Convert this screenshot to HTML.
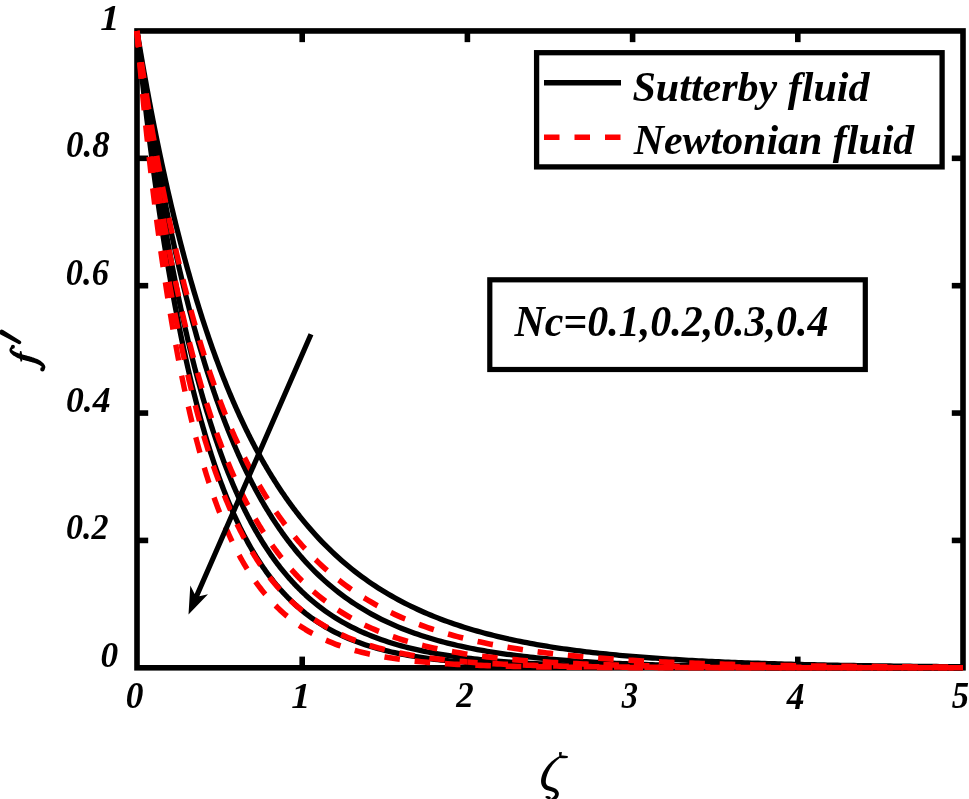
<!DOCTYPE html>
<html><head><meta charset="utf-8"><style>
html,body{margin:0;padding:0;background:#fff;overflow:hidden;}
svg{display:block;will-change:transform;}
text{font-family:"Liberation Serif",serif;font-weight:bold;font-style:italic;fill:#000;}
.bk{fill:none;stroke:#000;stroke-width:5.3;stroke-linejoin:round;}
.rd{fill:none;stroke:#f00;stroke-width:5.4;stroke-dasharray:15.6 14.82;stroke-linejoin:round;}
</style></head><body>
<svg width="969" height="799" viewBox="0 0 969 799">
<rect x="0" y="0" width="969" height="799" fill="#fff"/>
<g stroke="#000" stroke-width="5.6" fill="none">
<rect x="137.0" y="30.95" width="826.00" height="636.85"/>
<line x1="302.20" y1="667.80" x2="302.20" y2="656.60"/><line x1="302.20" y1="30.95" x2="302.20" y2="42.15"/><line x1="467.40" y1="667.80" x2="467.40" y2="656.60"/><line x1="467.40" y1="30.95" x2="467.40" y2="42.15"/><line x1="632.60" y1="667.80" x2="632.60" y2="656.60"/><line x1="632.60" y1="30.95" x2="632.60" y2="42.15"/><line x1="797.80" y1="667.80" x2="797.80" y2="656.60"/><line x1="797.80" y1="30.95" x2="797.80" y2="42.15"/><line x1="137.00" y1="540.43" x2="148.20" y2="540.43"/><line x1="963.00" y1="540.43" x2="951.80" y2="540.43"/><line x1="137.00" y1="413.06" x2="148.20" y2="413.06"/><line x1="963.00" y1="413.06" x2="951.80" y2="413.06"/><line x1="137.00" y1="285.69" x2="148.20" y2="285.69"/><line x1="963.00" y1="285.69" x2="951.80" y2="285.69"/><line x1="137.00" y1="158.32" x2="148.20" y2="158.32"/><line x1="963.00" y1="158.32" x2="951.80" y2="158.32"/>
</g>
<path d="M137.00,30.95 L137.33,34.24 L137.66,37.46 L137.99,40.64 L138.32,43.80 L138.65,46.93 L138.98,50.04 L139.31,53.12 L139.64,56.19 L139.97,59.24 L140.30,62.26 L140.63,65.27 L140.96,68.26 L141.30,71.24 L141.63,74.19 L141.96,77.13 L142.29,80.05 L142.62,82.96 L142.95,85.85 L143.28,88.72 L143.61,91.58 L143.94,94.42 L144.27,97.25 L144.60,100.06 L144.93,102.85 L145.26,105.63 L146.09,112.52 L146.91,119.32 L147.74,126.02 L148.56,132.64 L149.39,139.17 L150.22,145.62 L151.04,151.98 L151.87,158.26 L152.69,164.46 L153.52,170.59 L154.35,176.63 L155.17,182.60 L156.00,188.49 L156.82,194.31 L157.65,200.05 L158.48,205.72 L159.30,211.33 L160.13,216.86 L160.95,222.32 L161.78,227.71 L162.61,233.04 L163.43,238.30 L164.26,243.49 L165.08,248.62 L165.91,253.69 L166.74,258.69 L167.56,263.63 L168.39,268.51 L169.21,273.33 L170.04,278.09 L170.87,282.79 L171.69,287.43 L172.52,292.02 L173.34,296.55 L174.17,301.02 L175.00,305.44 L175.82,309.81 L176.65,314.12 L177.47,318.37 L178.30,322.58 L179.13,326.73 L179.95,330.84 L180.78,334.89 L181.60,338.89 L182.43,342.85 L183.26,346.75 L184.08,350.61 L184.91,354.42 L185.73,358.19 L186.56,361.91 L187.39,365.58 L188.21,369.21 L189.04,372.79 L189.86,376.33 L190.69,379.83 L191.52,383.29 L192.34,386.70 L193.17,390.07 L193.99,393.40 L194.82,396.69 L195.65,399.94 L196.47,403.15 L197.30,406.32 L198.12,409.46 L198.95,412.55 L199.78,415.61 L200.60,418.63 L201.43,421.61 L202.25,424.56 L203.08,427.47 L203.91,430.35 L204.73,433.19 L205.56,436.00 L206.38,438.77 L207.21,441.51 L208.04,444.22 L208.86,446.89 L209.69,449.53 L210.51,452.14 L211.34,454.72 L212.17,457.27 L212.99,459.78 L213.82,462.27 L214.64,464.73 L215.47,467.15 L216.30,469.55 L217.12,471.92 L217.95,474.26 L218.77,476.57 L219.60,478.85 L220.43,481.11 L221.25,483.34 L222.08,485.54 L222.90,487.71 L223.73,489.86 L224.56,491.99 L225.38,494.08 L226.21,496.16 L227.03,498.20 L227.86,500.23 L228.69,502.23 L229.51,504.20 L230.34,506.15 L231.16,508.08 L231.99,509.98 L232.82,511.86 L233.64,513.72 L234.47,515.56 L235.29,517.37 L236.12,519.17 L236.95,520.94 L237.77,522.69 L238.60,524.42 L239.42,526.12 L240.25,527.81 L241.08,529.48 L241.90,531.13 L242.73,532.75 L243.55,534.36 L244.38,535.95 L245.21,537.52 L246.03,539.07 L246.86,540.60 L247.68,542.12 L248.51,543.61 L249.34,545.09 L250.16,546.55 L250.99,547.99 L251.81,549.42 L252.64,550.83 L253.47,552.22 L254.29,553.59 L255.12,554.95 L255.94,556.29 L256.77,557.62 L257.60,558.93 L258.42,560.22 L259.25,561.50 L260.07,562.76 L260.90,564.01 L261.73,565.25 L262.55,566.46 L263.38,567.67 L264.20,568.86 L265.03,570.03 L265.86,571.20 L266.68,572.34 L267.51,573.48 L268.33,574.60 L269.16,575.70 L269.99,576.80 L270.81,577.88 L271.64,578.95 L272.46,580.00 L273.29,581.04 L274.12,582.07 L274.94,583.09 L275.77,584.10 L276.59,585.09 L277.42,586.07 L278.25,587.04 L279.07,588.00 L279.90,588.95 L280.72,589.88 L281.55,590.81 L282.38,591.72 L283.20,592.62 L284.03,593.52 L284.85,594.40 L285.68,595.27 L286.51,596.13 L287.33,596.98 L288.16,597.82 L288.98,598.65 L289.81,599.47 L290.64,600.28 L291.46,601.08 L292.29,601.87 L293.11,602.65 L293.94,603.42 L294.77,604.19 L295.59,604.94 L296.42,605.69 L297.24,606.42 L298.07,607.15 L298.90,607.87 L299.72,608.58 L300.55,609.28 L301.37,609.97 L302.20,610.66 L305.50,613.32 L308.81,615.85 L312.11,618.27 L315.42,620.57 L318.72,622.77 L322.02,624.86 L325.33,626.86 L328.63,628.76 L331.94,630.58 L335.24,632.31 L338.54,633.96 L341.85,635.53 L345.15,637.03 L348.46,638.45 L351.76,639.82 L355.06,641.12 L358.37,642.35 L361.67,643.53 L364.98,644.66 L368.28,645.73 L371.58,646.76 L374.89,647.73 L378.19,648.66 L381.50,649.55 L384.80,650.40 L388.10,651.20 L391.41,651.97 L394.71,652.70 L398.02,653.40 L401.32,654.07 L404.62,654.71 L407.93,655.31 L411.23,655.89 L414.54,656.44 L417.84,656.97 L421.14,657.47 L424.45,657.95 L427.75,658.40 L431.06,658.84 L434.36,659.25 L437.66,659.65 L440.97,660.02 L444.27,660.38 L447.58,660.73 L450.88,661.05 L454.18,661.37 L457.49,661.66 L460.79,661.95 L464.10,662.22 L467.40,662.47 L470.70,662.72 L474.01,662.96 L477.31,663.18 L480.62,663.39 L483.92,663.60 L487.22,663.79 L490.53,663.98 L493.83,664.15 L497.14,664.32 L500.44,664.48 L503.74,664.63 L507.05,664.78 L510.35,664.92 L513.66,665.05 L516.96,665.18 L520.26,665.30 L523.57,665.41 L526.87,665.52 L530.18,665.63 L533.48,665.73 L536.78,665.83 L540.09,665.92 L543.39,666.00 L546.70,666.09 L550.00,666.16 L553.30,666.24 L556.61,666.31 L559.91,666.38 L563.22,666.45 L566.52,666.51 L569.82,666.57 L573.13,666.62 L576.43,666.68 L579.74,666.73 L583.04,666.78 L586.34,666.83 L589.65,666.87 L592.95,666.91 L596.26,666.95 L599.56,666.99 L602.86,667.03 L606.17,667.07 L609.47,667.10 L612.78,667.13 L616.08,667.16 L619.38,667.19 L622.69,667.22 L625.99,667.25 L629.30,667.27 L632.60,667.30 L635.90,667.32 L639.21,667.34 L642.51,667.36 L645.82,667.38 L649.12,667.40 L652.42,667.42 L655.73,667.44 L659.03,667.45 L662.34,667.47 L665.64,667.49 L668.94,667.50 L672.25,667.51 L675.55,667.53 L678.86,667.54 L682.16,667.55 L685.46,667.56 L688.77,667.57 L692.07,667.58 L695.38,667.59 L698.68,667.60 L701.98,667.61 L705.29,667.62 L708.59,667.63 L711.90,667.64 L715.20,667.64 L718.50,667.65 L721.81,667.66 L725.11,667.67 L728.42,667.67 L731.72,667.68 L735.02,667.68 L738.33,667.69 L741.63,667.69 L744.94,667.70 L748.24,667.70 L751.54,667.71 L754.85,667.71 L758.15,667.72 L761.46,667.72 L764.76,667.72 L768.06,667.73 L771.37,667.73 L774.67,667.73 L777.98,667.74 L781.28,667.74 L784.58,667.74 L787.89,667.74 L791.19,667.75 L794.50,667.75 L797.80,667.75 L801.10,667.75 L804.41,667.76 L807.71,667.76 L811.02,667.76 L814.32,667.76 L817.62,667.76 L820.93,667.77 L824.23,667.77 L827.54,667.77 L830.84,667.77 L834.14,667.77 L837.45,667.77 L840.75,667.77 L844.06,667.78 L847.36,667.78 L850.66,667.78 L853.97,667.78 L857.27,667.78 L860.58,667.78 L863.88,667.78 L867.18,667.78 L870.49,667.78 L873.79,667.78 L877.10,667.78 L880.40,667.79 L883.70,667.79 L887.01,667.79 L890.31,667.79 L893.62,667.79 L896.92,667.79 L900.22,667.79 L903.53,667.79 L906.83,667.79 L910.14,667.79 L913.44,667.79 L916.74,667.79 L920.05,667.79 L923.35,667.79 L926.66,667.79 L929.96,667.79 L933.26,667.79 L936.57,667.79 L939.87,667.79 L943.18,667.79 L946.48,667.79 L949.78,667.79 L953.09,667.79 L956.39,667.79 L959.70,667.80 L963.00,667.80 L963.00,667.80" class="bk"/>
<path d="M137.00,30.95 L137.33,33.71 L137.66,36.45 L137.99,39.19 L138.32,41.91 L138.65,44.62 L138.98,47.32 L139.31,50.00 L139.64,52.67 L139.97,55.34 L140.30,57.99 L140.63,60.62 L140.96,63.25 L141.30,65.87 L141.63,68.47 L141.96,71.06 L142.29,73.64 L142.62,76.21 L142.95,78.77 L143.28,81.32 L143.61,83.85 L143.94,86.38 L144.27,88.89 L144.60,91.39 L144.93,93.88 L145.26,96.36 L146.09,102.51 L146.91,108.60 L147.74,114.61 L148.56,120.57 L149.39,126.45 L150.22,132.27 L151.04,138.03 L151.87,143.72 L152.69,149.36 L153.52,154.93 L154.35,160.43 L155.17,165.88 L156.00,171.27 L156.82,176.60 L157.65,181.87 L158.48,187.09 L159.30,192.24 L160.13,197.34 L160.95,202.39 L161.78,207.38 L162.61,212.31 L163.43,217.19 L164.26,222.02 L165.08,226.79 L165.91,231.51 L166.74,236.19 L167.56,240.80 L168.39,245.37 L169.21,249.89 L170.04,254.36 L170.87,258.78 L171.69,263.16 L172.52,267.48 L173.34,271.76 L174.17,275.99 L175.00,280.18 L175.82,284.32 L176.65,288.41 L177.47,292.46 L178.30,296.47 L179.13,300.43 L179.95,304.35 L180.78,308.23 L181.60,312.06 L182.43,315.86 L183.26,319.61 L184.08,323.32 L184.91,326.99 L185.73,330.62 L186.56,334.21 L187.39,337.77 L188.21,341.28 L189.04,344.76 L189.86,348.19 L190.69,351.60 L191.52,354.96 L192.34,358.29 L193.17,361.58 L193.99,364.83 L194.82,368.05 L195.65,371.24 L196.47,374.39 L197.30,377.51 L198.12,380.59 L198.95,383.64 L199.78,386.66 L200.60,389.64 L201.43,392.60 L202.25,395.52 L203.08,398.40 L203.91,401.26 L204.73,404.09 L205.56,406.88 L206.38,409.65 L207.21,412.39 L208.04,415.09 L208.86,417.77 L209.69,420.42 L210.51,423.04 L211.34,425.63 L212.17,428.19 L212.99,430.73 L213.82,433.24 L214.64,435.72 L215.47,438.18 L216.30,440.60 L217.12,443.01 L217.95,445.38 L218.77,447.73 L219.60,450.06 L220.43,452.36 L221.25,454.64 L222.08,456.89 L222.90,459.11 L223.73,461.32 L224.56,463.50 L225.38,465.65 L226.21,467.79 L227.03,469.90 L227.86,471.99 L228.69,474.05 L229.51,476.09 L230.34,478.11 L231.16,480.11 L231.99,482.09 L232.82,484.05 L233.64,485.98 L234.47,487.90 L235.29,489.79 L236.12,491.67 L236.95,493.52 L237.77,495.36 L238.60,497.17 L239.42,498.97 L240.25,500.74 L241.08,502.50 L241.90,504.24 L242.73,505.96 L243.55,507.66 L244.38,509.34 L245.21,511.01 L246.03,512.66 L246.86,514.28 L247.68,515.90 L248.51,517.49 L249.34,519.07 L250.16,520.63 L250.99,522.18 L251.81,523.70 L252.64,525.22 L253.47,526.71 L254.29,528.19 L255.12,529.66 L255.94,531.10 L256.77,532.54 L257.60,533.95 L258.42,535.36 L259.25,536.74 L260.07,538.12 L260.90,539.48 L261.73,540.82 L262.55,542.15 L263.38,543.46 L264.20,544.77 L265.03,546.05 L265.86,547.33 L266.68,548.59 L267.51,549.83 L268.33,551.07 L269.16,552.29 L269.99,553.50 L270.81,554.69 L271.64,555.87 L272.46,557.04 L273.29,558.20 L274.12,559.34 L274.94,560.48 L275.77,561.60 L276.59,562.71 L277.42,563.80 L278.25,564.89 L279.07,565.96 L279.90,567.03 L280.72,568.08 L281.55,569.12 L282.38,570.15 L283.20,571.16 L284.03,572.17 L284.85,573.17 L285.68,574.15 L286.51,575.13 L287.33,576.10 L288.16,577.05 L288.98,578.00 L289.81,578.93 L290.64,579.86 L291.46,580.77 L292.29,581.68 L293.11,582.57 L293.94,583.46 L294.77,584.34 L295.59,585.21 L296.42,586.06 L297.24,586.91 L298.07,587.76 L298.90,588.59 L299.72,589.41 L300.55,590.23 L301.37,591.03 L302.20,591.83 L305.50,594.94 L308.81,597.91 L312.11,600.77 L315.42,603.50 L318.72,606.13 L322.02,608.64 L325.33,611.05 L328.63,613.36 L331.94,615.58 L335.24,617.70 L338.54,619.74 L341.85,621.69 L345.15,623.56 L348.46,625.36 L351.76,627.08 L355.06,628.73 L358.37,630.31 L361.67,631.83 L364.98,633.29 L368.28,634.68 L371.58,636.02 L374.89,637.31 L378.19,638.54 L381.50,639.72 L384.80,640.85 L388.10,641.94 L391.41,642.98 L394.71,643.98 L398.02,644.94 L401.32,645.86 L404.62,646.74 L407.93,647.59 L411.23,648.40 L414.54,649.18 L417.84,649.92 L421.14,650.64 L424.45,651.33 L427.75,651.99 L431.06,652.62 L434.36,653.23 L437.66,653.81 L440.97,654.37 L444.27,654.91 L447.58,655.42 L450.88,655.92 L454.18,656.39 L457.49,656.85 L460.79,657.28 L464.10,657.70 L467.40,658.11 L470.70,658.49 L474.01,658.86 L477.31,659.22 L480.62,659.56 L483.92,659.89 L487.22,660.20 L490.53,660.50 L493.83,660.79 L497.14,661.07 L500.44,661.34 L503.74,661.59 L507.05,661.84 L510.35,662.08 L513.66,662.30 L516.96,662.52 L520.26,662.73 L523.57,662.93 L526.87,663.12 L530.18,663.31 L533.48,663.48 L536.78,663.65 L540.09,663.82 L543.39,663.97 L546.70,664.13 L550.00,664.27 L553.30,664.41 L556.61,664.54 L559.91,664.67 L563.22,664.79 L566.52,664.91 L569.82,665.03 L573.13,665.13 L576.43,665.24 L579.74,665.34 L583.04,665.44 L586.34,665.53 L589.65,665.62 L592.95,665.70 L596.26,665.79 L599.56,665.86 L602.86,665.94 L606.17,666.01 L609.47,666.08 L612.78,666.15 L616.08,666.21 L619.38,666.28 L622.69,666.34 L625.99,666.39 L629.30,666.45 L632.60,666.50 L635.90,666.55 L639.21,666.60 L642.51,666.65 L645.82,666.69 L649.12,666.74 L652.42,666.78 L655.73,666.82 L659.03,666.85 L662.34,666.89 L665.64,666.93 L668.94,666.96 L672.25,666.99 L675.55,667.02 L678.86,667.05 L682.16,667.08 L685.46,667.11 L688.77,667.14 L692.07,667.16 L695.38,667.19 L698.68,667.21 L701.98,667.24 L705.29,667.26 L708.59,667.28 L711.90,667.30 L715.20,667.32 L718.50,667.34 L721.81,667.35 L725.11,667.37 L728.42,667.39 L731.72,667.40 L735.02,667.42 L738.33,667.43 L741.63,667.45 L744.94,667.46 L748.24,667.47 L751.54,667.49 L754.85,667.50 L758.15,667.51 L761.46,667.52 L764.76,667.53 L768.06,667.54 L771.37,667.55 L774.67,667.56 L777.98,667.57 L781.28,667.58 L784.58,667.59 L787.89,667.60 L791.19,667.60 L794.50,667.61 L797.80,667.62 L801.10,667.63 L804.41,667.63 L807.71,667.64 L811.02,667.65 L814.32,667.65 L817.62,667.66 L820.93,667.66 L824.23,667.67 L827.54,667.67 L830.84,667.68 L834.14,667.68 L837.45,667.69 L840.75,667.69 L844.06,667.70 L847.36,667.70 L850.66,667.70 L853.97,667.71 L857.27,667.71 L860.58,667.71 L863.88,667.72 L867.18,667.72 L870.49,667.72 L873.79,667.73 L877.10,667.73 L880.40,667.73 L883.70,667.73 L887.01,667.74 L890.31,667.74 L893.62,667.74 L896.92,667.74 L900.22,667.75 L903.53,667.75 L906.83,667.75 L910.14,667.75 L913.44,667.75 L916.74,667.76 L920.05,667.76 L923.35,667.76 L926.66,667.76 L929.96,667.76 L933.26,667.76 L936.57,667.76 L939.87,667.77 L943.18,667.77 L946.48,667.77 L949.78,667.77 L953.09,667.77 L956.39,667.77 L959.70,667.77 L963.00,667.77 L963.00,667.77" class="bk"/>
<path d="M137.00,30.95 L137.33,33.59 L137.66,36.13 L137.99,38.62 L138.32,41.07 L138.65,43.50 L138.98,45.91 L139.31,48.30 L139.64,50.67 L139.97,53.02 L140.30,55.36 L140.63,57.68 L140.96,59.98 L141.30,62.28 L141.63,64.56 L141.96,66.82 L142.29,69.08 L142.62,71.32 L142.95,73.55 L143.28,75.77 L143.61,77.97 L143.94,80.17 L144.27,82.35 L144.60,84.53 L144.93,86.69 L145.26,88.84 L146.09,94.18 L146.91,99.45 L147.74,104.67 L148.56,109.83 L149.39,114.92 L150.22,119.97 L151.04,124.96 L151.87,129.89 L152.69,134.78 L153.52,139.61 L154.35,144.39 L155.17,149.12 L156.00,153.81 L156.82,158.45 L157.65,163.03 L158.48,167.58 L159.30,172.08 L160.13,176.53 L160.95,180.94 L161.78,185.30 L162.61,189.63 L163.43,193.90 L164.26,198.14 L165.08,202.34 L165.91,206.49 L166.74,210.61 L167.56,214.69 L168.39,218.72 L169.21,222.72 L170.04,226.68 L170.87,230.60 L171.69,234.48 L172.52,238.33 L173.34,242.14 L174.17,245.92 L175.00,249.66 L175.82,253.36 L176.65,257.03 L177.47,260.66 L178.30,264.26 L179.13,267.83 L179.95,271.36 L180.78,274.86 L181.60,278.33 L182.43,281.76 L183.26,285.16 L184.08,288.54 L184.91,291.88 L185.73,295.19 L186.56,298.46 L187.39,301.71 L188.21,304.93 L189.04,308.12 L189.86,311.28 L190.69,314.41 L191.52,317.51 L192.34,320.58 L193.17,323.63 L193.99,326.64 L194.82,329.63 L195.65,332.59 L196.47,335.53 L197.30,338.44 L198.12,341.32 L198.95,344.17 L199.78,347.00 L200.60,349.81 L201.43,352.58 L202.25,355.34 L203.08,358.06 L203.91,360.77 L204.73,363.45 L205.56,366.10 L206.38,368.73 L207.21,371.34 L208.04,373.92 L208.86,376.48 L209.69,379.02 L210.51,381.53 L211.34,384.02 L212.17,386.49 L212.99,388.94 L213.82,391.36 L214.64,393.76 L215.47,396.15 L216.30,398.51 L217.12,400.84 L217.95,403.16 L218.77,405.46 L219.60,407.74 L220.43,409.99 L221.25,412.23 L222.08,414.44 L222.90,416.64 L223.73,418.82 L224.56,420.97 L225.38,423.11 L226.21,425.23 L227.03,427.33 L227.86,429.41 L228.69,431.47 L229.51,433.52 L230.34,435.55 L231.16,437.55 L231.99,439.54 L232.82,441.52 L233.64,443.47 L234.47,445.41 L235.29,447.33 L236.12,449.23 L236.95,451.12 L237.77,452.99 L238.60,454.85 L239.42,456.68 L240.25,458.50 L241.08,460.31 L241.90,462.10 L242.73,463.87 L243.55,465.63 L244.38,467.37 L245.21,469.10 L246.03,470.81 L246.86,472.50 L247.68,474.19 L248.51,475.85 L249.34,477.50 L250.16,479.14 L250.99,480.76 L251.81,482.37 L252.64,483.97 L253.47,485.55 L254.29,487.11 L255.12,488.67 L255.94,490.21 L256.77,491.73 L257.60,493.24 L258.42,494.74 L259.25,496.23 L260.07,497.70 L260.90,499.16 L261.73,500.61 L262.55,502.04 L263.38,503.47 L264.20,504.88 L265.03,506.27 L265.86,507.66 L266.68,509.03 L267.51,510.39 L268.33,511.74 L269.16,513.08 L269.99,514.40 L270.81,515.72 L271.64,517.02 L272.46,518.31 L273.29,519.59 L274.12,520.86 L274.94,522.12 L275.77,523.36 L276.59,524.60 L277.42,525.82 L278.25,527.04 L279.07,528.24 L279.90,529.43 L280.72,530.62 L281.55,531.79 L282.38,532.95 L283.20,534.10 L284.03,535.25 L284.85,536.38 L285.68,537.50 L286.51,538.61 L287.33,539.72 L288.16,540.81 L288.98,541.89 L289.81,542.97 L290.64,544.03 L291.46,545.09 L292.29,546.14 L293.11,547.18 L293.94,548.20 L294.77,549.22 L295.59,550.23 L296.42,551.24 L297.24,552.23 L298.07,553.22 L298.90,554.19 L299.72,555.16 L300.55,556.12 L301.37,557.07 L302.20,558.01 L305.50,561.71 L308.81,565.27 L312.11,568.71 L315.42,572.04 L318.72,575.25 L322.02,578.36 L325.33,581.36 L328.63,584.25 L331.94,587.05 L335.24,589.75 L338.54,592.37 L341.85,594.89 L345.15,597.33 L348.46,599.68 L351.76,601.96 L355.06,604.16 L358.37,606.28 L361.67,608.33 L364.98,610.32 L368.28,612.23 L371.58,614.08 L374.89,615.87 L378.19,617.60 L381.50,619.27 L384.80,620.89 L388.10,622.45 L391.41,623.96 L394.71,625.42 L398.02,626.82 L401.32,628.19 L404.62,629.50 L407.93,630.77 L411.23,632.00 L414.54,633.19 L417.84,634.34 L421.14,635.45 L424.45,636.52 L427.75,637.56 L431.06,638.56 L434.36,639.53 L437.66,640.46 L440.97,641.37 L444.27,642.24 L447.58,643.09 L450.88,643.90 L454.18,644.69 L457.49,645.46 L460.79,646.20 L464.10,646.91 L467.40,647.60 L470.70,648.27 L474.01,648.91 L477.31,649.53 L480.62,650.14 L483.92,650.72 L487.22,651.28 L490.53,651.83 L493.83,652.35 L497.14,652.86 L500.44,653.35 L503.74,653.83 L507.05,654.29 L510.35,654.73 L513.66,655.16 L516.96,655.58 L520.26,655.98 L523.57,656.37 L526.87,656.75 L530.18,657.11 L533.48,657.46 L536.78,657.80 L540.09,658.13 L543.39,658.45 L546.70,658.75 L550.00,659.05 L553.30,659.34 L556.61,659.62 L559.91,659.88 L563.22,660.14 L566.52,660.40 L569.82,660.64 L573.13,660.87 L576.43,661.10 L579.74,661.32 L583.04,661.53 L586.34,661.74 L589.65,661.94 L592.95,662.13 L596.26,662.31 L599.56,662.49 L602.86,662.67 L606.17,662.83 L609.47,663.00 L612.78,663.15 L616.08,663.31 L619.38,663.45 L622.69,663.59 L625.99,663.73 L629.30,663.87 L632.60,663.99 L635.90,664.12 L639.21,664.24 L642.51,664.35 L645.82,664.47 L649.12,664.58 L652.42,664.68 L655.73,664.78 L659.03,664.88 L662.34,664.98 L665.64,665.07 L668.94,665.16 L672.25,665.24 L675.55,665.33 L678.86,665.41 L682.16,665.49 L685.46,665.56 L688.77,665.63 L692.07,665.70 L695.38,665.77 L698.68,665.84 L701.98,665.90 L705.29,665.96 L708.59,666.02 L711.90,666.08 L715.20,666.14 L718.50,666.19 L721.81,666.24 L725.11,666.29 L728.42,666.34 L731.72,666.39 L735.02,666.44 L738.33,666.48 L741.63,666.52 L744.94,666.57 L748.24,666.61 L751.54,666.64 L754.85,666.68 L758.15,666.72 L761.46,666.75 L764.76,666.79 L768.06,666.82 L771.37,666.85 L774.67,666.88 L777.98,666.91 L781.28,666.94 L784.58,666.97 L787.89,667.00 L791.19,667.02 L794.50,667.05 L797.80,667.07 L801.10,667.10 L804.41,667.12 L807.71,667.14 L811.02,667.16 L814.32,667.18 L817.62,667.20 L820.93,667.22 L824.23,667.24 L827.54,667.26 L830.84,667.28 L834.14,667.29 L837.45,667.31 L840.75,667.33 L844.06,667.34 L847.36,667.36 L850.66,667.37 L853.97,667.38 L857.27,667.40 L860.58,667.41 L863.88,667.42 L867.18,667.44 L870.49,667.45 L873.79,667.46 L877.10,667.47 L880.40,667.48 L883.70,667.49 L887.01,667.50 L890.31,667.51 L893.62,667.52 L896.92,667.53 L900.22,667.54 L903.53,667.55 L906.83,667.55 L910.14,667.56 L913.44,667.57 L916.74,667.58 L920.05,667.58 L923.35,667.59 L926.66,667.60 L929.96,667.60 L933.26,667.61 L936.57,667.62 L939.87,667.62 L943.18,667.63 L946.48,667.63 L949.78,667.64 L953.09,667.64 L956.39,667.65 L959.70,667.65 L963.00,667.66 L963.00,667.66" class="bk"/>
<path d="M137.00,30.95 L137.33,32.96 L137.66,34.96 L137.99,36.95 L138.32,38.93 L138.65,40.91 L138.98,42.88 L139.31,44.84 L139.64,46.80 L139.97,48.75 L140.30,50.69 L140.63,52.62 L140.96,54.55 L141.30,56.47 L141.63,58.39 L141.96,60.30 L142.29,62.20 L142.62,64.09 L142.95,65.98 L143.28,67.86 L143.61,69.73 L143.94,71.60 L144.27,73.46 L144.60,75.31 L144.93,77.16 L145.26,79.00 L146.09,83.57 L146.91,88.11 L147.74,92.60 L148.56,97.05 L149.39,101.47 L150.22,105.84 L151.04,110.18 L151.87,114.48 L152.69,118.74 L153.52,122.96 L154.35,127.15 L155.17,131.30 L156.00,135.42 L156.82,139.50 L157.65,143.54 L158.48,147.55 L159.30,151.53 L160.13,155.47 L160.95,159.38 L161.78,163.25 L162.61,167.09 L163.43,170.90 L164.26,174.67 L165.08,178.42 L165.91,182.13 L166.74,185.81 L167.56,189.46 L168.39,193.07 L169.21,196.66 L170.04,200.22 L170.87,203.74 L171.69,207.24 L172.52,210.71 L173.34,214.15 L174.17,217.56 L175.00,220.94 L175.82,224.29 L176.65,227.62 L177.47,230.92 L178.30,234.19 L179.13,237.43 L179.95,240.65 L180.78,243.83 L181.60,247.00 L182.43,250.13 L183.26,253.24 L184.08,256.33 L184.91,259.39 L185.73,262.42 L186.56,265.43 L187.39,268.42 L188.21,271.38 L189.04,274.32 L189.86,277.23 L190.69,280.12 L191.52,282.98 L192.34,285.82 L193.17,288.64 L193.99,291.44 L194.82,294.21 L195.65,296.96 L196.47,299.69 L197.30,302.39 L198.12,305.08 L198.95,307.74 L199.78,310.38 L200.60,313.00 L201.43,315.60 L202.25,318.18 L203.08,320.74 L203.91,323.27 L204.73,325.79 L205.56,328.28 L206.38,330.76 L207.21,333.22 L208.04,335.65 L208.86,338.07 L209.69,340.47 L210.51,342.85 L211.34,345.21 L212.17,347.55 L212.99,349.87 L213.82,352.18 L214.64,354.46 L215.47,356.73 L216.30,358.98 L217.12,361.21 L217.95,363.43 L218.77,365.63 L219.60,367.81 L220.43,369.97 L221.25,372.12 L222.08,374.25 L222.90,376.36 L223.73,378.45 L224.56,380.53 L225.38,382.60 L226.21,384.65 L227.03,386.68 L227.86,388.69 L228.69,390.69 L229.51,392.68 L230.34,394.65 L231.16,396.60 L231.99,398.54 L232.82,400.46 L233.64,402.37 L234.47,404.26 L235.29,406.14 L236.12,408.01 L236.95,409.86 L237.77,411.69 L238.60,413.51 L239.42,415.32 L240.25,417.12 L241.08,418.90 L241.90,420.66 L242.73,422.42 L243.55,424.16 L244.38,425.88 L245.21,427.59 L246.03,429.29 L246.86,430.98 L247.68,432.66 L248.51,434.32 L249.34,435.97 L250.16,437.60 L250.99,439.22 L251.81,440.84 L252.64,442.43 L253.47,444.02 L254.29,445.60 L255.12,447.16 L255.94,448.71 L256.77,450.25 L257.60,451.78 L258.42,453.29 L259.25,454.80 L260.07,456.29 L260.90,457.77 L261.73,459.24 L262.55,460.70 L263.38,462.15 L264.20,463.59 L265.03,465.02 L265.86,466.44 L266.68,467.84 L267.51,469.24 L268.33,470.62 L269.16,472.00 L269.99,473.36 L270.81,474.71 L271.64,476.06 L272.46,477.39 L273.29,478.72 L274.12,480.03 L274.94,481.33 L275.77,482.63 L276.59,483.91 L277.42,485.19 L278.25,486.46 L279.07,487.71 L279.90,488.96 L280.72,490.20 L281.55,491.43 L282.38,492.65 L283.20,493.86 L284.03,495.06 L284.85,496.25 L285.68,497.44 L286.51,498.61 L287.33,499.78 L288.16,500.94 L288.98,502.09 L289.81,503.23 L290.64,504.36 L291.46,505.48 L292.29,506.60 L293.11,507.71 L293.94,508.81 L294.77,509.90 L295.59,510.98 L296.42,512.06 L297.24,513.13 L298.07,514.19 L298.90,515.24 L299.72,516.28 L300.55,517.32 L301.37,518.35 L302.20,519.37 L305.50,523.39 L308.81,527.29 L312.11,531.07 L315.42,534.75 L318.72,538.33 L322.02,541.80 L325.33,545.17 L328.63,548.45 L331.94,551.64 L335.24,554.73 L338.54,557.74 L341.85,560.66 L345.15,563.50 L348.46,566.26 L351.76,568.95 L355.06,571.56 L358.37,574.10 L361.67,576.56 L364.98,578.96 L368.28,581.29 L371.58,583.56 L374.89,585.76 L378.19,587.91 L381.50,589.99 L384.80,592.02 L388.10,593.99 L391.41,595.91 L394.71,597.78 L398.02,599.59 L401.32,601.36 L404.62,603.08 L407.93,604.75 L411.23,606.38 L414.54,607.96 L417.84,609.50 L421.14,611.00 L424.45,612.45 L427.75,613.87 L431.06,615.25 L434.36,616.60 L437.66,617.91 L440.97,619.18 L444.27,620.42 L447.58,621.62 L450.88,622.80 L454.18,623.94 L457.49,625.05 L460.79,626.14 L464.10,627.19 L467.40,628.22 L470.70,629.22 L474.01,630.19 L477.31,631.14 L480.62,632.06 L483.92,632.96 L487.22,633.84 L490.53,634.69 L493.83,635.52 L497.14,636.33 L500.44,637.11 L503.74,637.88 L507.05,638.63 L510.35,639.35 L513.66,640.06 L516.96,640.75 L520.26,641.43 L523.57,642.08 L526.87,642.72 L530.18,643.34 L533.48,643.95 L536.78,644.54 L540.09,645.11 L543.39,645.67 L546.70,646.22 L550.00,646.75 L553.30,647.27 L556.61,647.78 L559.91,648.27 L563.22,648.75 L566.52,649.22 L569.82,649.67 L573.13,650.12 L576.43,650.55 L579.74,650.97 L583.04,651.38 L586.34,651.78 L589.65,652.17 L592.95,652.55 L596.26,652.93 L599.56,653.29 L602.86,653.64 L606.17,653.98 L609.47,654.32 L612.78,654.65 L616.08,654.96 L619.38,655.28 L622.69,655.58 L625.99,655.87 L629.30,656.16 L632.60,656.44 L635.90,656.72 L639.21,656.98 L642.51,657.24 L645.82,657.50 L649.12,657.75 L652.42,657.99 L655.73,658.22 L659.03,658.45 L662.34,658.68 L665.64,658.90 L668.94,659.11 L672.25,659.32 L675.55,659.52 L678.86,659.72 L682.16,659.91 L685.46,660.10 L688.77,660.28 L692.07,660.46 L695.38,660.63 L698.68,660.81 L701.98,660.97 L705.29,661.13 L708.59,661.29 L711.90,661.45 L715.20,661.60 L718.50,661.74 L721.81,661.89 L725.11,662.03 L728.42,662.16 L731.72,662.30 L735.02,662.43 L738.33,662.55 L741.63,662.68 L744.94,662.80 L748.24,662.91 L751.54,663.03 L754.85,663.14 L758.15,663.25 L761.46,663.36 L764.76,663.46 L768.06,663.56 L771.37,663.66 L774.67,663.76 L777.98,663.85 L781.28,663.95 L784.58,664.04 L787.89,664.12 L791.19,664.21 L794.50,664.29 L797.80,664.38 L801.10,664.46 L804.41,664.53 L807.71,664.61 L811.02,664.68 L814.32,664.76 L817.62,664.83 L820.93,664.90 L824.23,664.96 L827.54,665.03 L830.84,665.09 L834.14,665.16 L837.45,665.22 L840.75,665.28 L844.06,665.33 L847.36,665.39 L850.66,665.45 L853.97,665.50 L857.27,665.55 L860.58,665.61 L863.88,665.66 L867.18,665.71 L870.49,665.75 L873.79,665.80 L877.10,665.85 L880.40,665.89 L883.70,665.94 L887.01,665.98 L890.31,666.02 L893.62,666.06 L896.92,666.10 L900.22,666.14 L903.53,666.18 L906.83,666.21 L910.14,666.25 L913.44,666.29 L916.74,666.32 L920.05,666.35 L923.35,666.39 L926.66,666.42 L929.96,666.45 L933.26,666.48 L936.57,666.51 L939.87,666.54 L943.18,666.57 L946.48,666.60 L949.78,666.63 L953.09,666.65 L956.39,666.68 L959.70,666.70 L963.00,666.73 L963.00,666.73" class="bk"/>

<g transform="scale(1,1.04)"><path d="M137.00,29.760 L137.33,33.916 L137.66,37.853 L137.99,41.696 L138.32,45.470 L138.65,49.189 L138.98,52.859 L139.31,56.486 L139.64,60.074 L139.97,63.624 L140.30,67.139 L140.63,70.621 L140.96,74.071 L141.30,77.491 L141.63,80.881 L141.96,84.243 L142.29,87.577 L142.62,90.884 L142.95,94.165 L143.28,97.420 L143.61,100.650 L143.94,103.856 L144.27,107.037 L144.60,110.195 L144.93,113.329 L145.26,116.441 L146.09,124.122 L146.91,131.668 L147.74,139.082 L148.56,146.371 L149.39,153.536 L150.22,160.582 L151.04,167.511 L151.87,174.328 L152.69,181.034 L153.52,187.632 L154.35,194.124 L155.17,200.514 L156.00,206.803 L156.82,212.993 L157.65,219.086 L158.48,225.085 L159.30,230.991 L160.13,236.806 L160.95,242.533 L161.78,248.171 L162.61,253.724 L163.43,259.192 L164.26,264.578 L165.08,269.883 L165.91,275.108 L166.74,280.255 L167.56,285.324 L168.39,290.318 L169.21,295.238 L170.04,300.085 L170.87,304.860 L171.69,309.565 L172.52,314.200 L173.34,318.767 L174.17,323.267 L175.00,327.701 L175.82,332.070 L176.65,336.375 L177.47,340.618 L178.30,344.798 L179.13,348.919 L179.95,352.979 L180.78,356.980 L181.60,360.924 L182.43,364.810 L183.26,368.641 L184.08,372.416 L184.91,376.137 L185.73,379.805 L186.56,383.419 L187.39,386.982 L188.21,390.494 L189.04,393.956 L189.86,397.369 L190.69,400.732 L191.52,404.048 L192.34,407.316 L193.17,410.538 L193.99,413.715 L194.82,416.846 L195.65,419.932 L196.47,422.975 L197.30,425.975 L198.12,428.933 L198.95,431.848 L199.78,434.723 L200.60,437.557 L201.43,440.350 L202.25,443.105 L203.08,445.821 L203.91,448.499 L204.73,451.139 L205.56,453.741 L206.38,456.308 L207.21,458.838 L208.04,461.333 L208.86,463.793 L209.69,466.219 L210.51,468.611 L211.34,470.969 L212.17,473.294 L212.99,475.587 L213.82,477.848 L214.64,480.078 L215.47,482.276 L216.30,484.444 L217.12,486.582 L217.95,488.690 L218.77,490.768 L219.60,492.818 L220.43,494.839 L221.25,496.833 L222.08,498.798 L222.90,500.737 L223.73,502.648 L224.56,504.534 L225.38,506.393 L226.21,508.226 L227.03,510.034 L227.86,511.817 L228.69,513.576 L229.51,515.310 L230.34,517.020 L231.16,518.707 L231.99,520.370 L232.82,522.011 L233.64,523.629 L234.47,525.225 L235.29,526.799 L236.12,528.351 L236.95,529.882 L237.77,531.391 L238.60,532.880 L239.42,534.349 L240.25,535.798 L241.08,537.226 L241.90,538.636 L242.73,540.025 L243.55,541.396 L244.38,542.748 L245.21,544.082 L246.03,545.397 L246.86,546.694 L247.68,547.974 L248.51,549.236 L249.34,550.481 L250.16,551.709 L250.99,552.920 L251.81,554.114 L252.64,555.293 L253.47,556.455 L254.29,557.601 L255.12,558.732 L255.94,559.848 L256.77,560.948 L257.60,562.033 L258.42,563.104 L259.25,564.160 L260.07,565.201 L260.90,566.229 L261.73,567.242 L262.55,568.242 L263.38,569.228 L264.20,570.201 L265.03,571.161 L265.86,572.107 L266.68,573.041 L267.51,573.962 L268.33,574.871 L269.16,575.767 L269.99,576.651 L270.81,577.524 L271.64,578.384 L272.46,579.233 L273.29,580.070 L274.12,580.896 L274.94,581.711 L275.77,582.515 L276.59,583.308 L277.42,584.090 L278.25,584.862 L279.07,585.623 L279.90,586.374 L280.72,587.115 L281.55,587.846 L282.38,588.567 L283.20,589.278 L284.03,589.980 L284.85,590.672 L285.68,591.355 L286.51,592.029 L287.33,592.694 L288.16,593.350 L288.98,593.997 L289.81,594.635 L290.64,595.265 L291.46,595.886 L292.29,596.499 L293.11,597.103 L293.94,597.700 L294.77,598.288 L295.59,598.869 L296.42,599.442 L297.24,600.007 L298.07,600.564 L298.90,601.114 L299.72,601.657 L300.55,602.192 L301.37,602.721 L302.20,603.242 L305.50,605.258 L308.81,607.168 L312.11,608.977 L315.42,610.693 L318.72,612.318 L322.02,613.858 L325.33,615.318 L328.63,616.702 L331.94,618.013 L335.24,619.256 L338.54,620.434 L341.85,621.551 L345.15,622.610 L348.46,623.614 L351.76,624.566 L355.06,625.468 L358.37,626.323 L361.67,627.134 L364.98,627.903 L368.28,628.633 L371.58,629.324 L374.89,629.980 L378.19,630.602 L381.50,631.191 L384.80,631.750 L388.10,632.281 L391.41,632.784 L394.71,633.261 L398.02,633.713 L401.32,634.143 L404.62,634.550 L407.93,634.936 L411.23,635.302 L414.54,635.650 L417.84,635.979 L421.14,636.292 L424.45,636.588 L427.75,636.870 L431.06,637.137 L434.36,637.390 L437.66,637.631 L440.97,637.859 L444.27,638.075 L447.58,638.280 L450.88,638.475 L454.18,638.660 L457.49,638.835 L460.79,639.002 L464.10,639.160 L467.40,639.309 L470.70,639.452 L474.01,639.587 L477.31,639.715 L480.62,639.836 L483.92,639.952 L487.22,640.061 L490.53,640.165 L493.83,640.264 L497.14,640.357 L500.44,640.446 L503.74,640.531 L507.05,640.611 L510.35,640.687 L513.66,640.759 L516.96,640.827 L520.26,640.892 L523.57,640.954 L526.87,641.012 L530.18,641.068 L533.48,641.121 L536.78,641.171 L540.09,641.218 L543.39,641.264 L546.70,641.307 L550.00,641.347 L553.30,641.386 L556.61,641.423 L559.91,641.457 L563.22,641.490 L566.52,641.522 L569.82,641.552 L573.13,641.580 L576.43,641.607 L579.74,641.632 L583.04,641.657 L586.34,641.680 L589.65,641.702 L592.95,641.722 L596.26,641.742 L599.56,641.761 L602.86,641.779 L606.17,641.795 L609.47,641.811 L612.78,641.827 L616.08,641.841 L619.38,641.855 L622.69,641.868 L625.99,641.880 L629.30,641.892 L632.60,641.903 L635.90,641.914 L639.21,641.924 L642.51,641.933 L645.82,641.943 L649.12,641.951 L652.42,641.959 L655.73,641.967 L659.03,641.975 L662.34,641.982 L665.64,641.988 L668.94,641.995 L672.25,642.001 L675.55,642.006 L678.86,642.012 L682.16,642.017 L685.46,642.022 L688.77,642.027 L692.07,642.031 L695.38,642.035 L698.68,642.039 L701.98,642.043 L705.29,642.047 L708.59,642.050 L711.90,642.053 L715.20,642.056 L718.50,642.059 L721.81,642.062 L725.11,642.065 L728.42,642.067 L731.72,642.070 L735.02,642.072 L738.33,642.074 L741.63,642.076 L744.94,642.078 L748.24,642.080 L751.54,642.082 L754.85,642.083 L758.15,642.085 L761.46,642.086 L764.76,642.088 L768.06,642.089 L771.37,642.091 L774.67,642.092 L777.98,642.093 L781.28,642.094 L784.58,642.095 L787.89,642.096 L791.19,642.097 L794.50,642.098 L797.80,642.099 L801.10,642.100 L804.41,642.100 L807.71,642.101 L811.02,642.102 L814.32,642.103 L817.62,642.103 L820.93,642.104 L824.23,642.104 L827.54,642.105 L830.84,642.105 L834.14,642.106 L837.45,642.106 L840.75,642.107 L844.06,642.107 L847.36,642.108 L850.66,642.108 L853.97,642.108 L857.27,642.109 L860.58,642.109 L863.88,642.109 L867.18,642.110 L870.49,642.110 L873.79,642.110 L877.10,642.110 L880.40,642.111 L883.70,642.111 L887.01,642.111 L890.31,642.111 L893.62,642.112 L896.92,642.112 L900.22,642.112 L903.53,642.112 L906.83,642.112 L910.14,642.112 L913.44,642.113 L916.74,642.113 L920.05,642.113 L923.35,642.113 L926.66,642.113 L929.96,642.113 L933.26,642.113 L936.57,642.113 L939.87,642.114 L943.18,642.114 L946.48,642.114 L949.78,642.114 L953.09,642.114 L956.39,642.114 L959.70,642.114 L963.00,642.114 L963.00,642.114" class="rd"/>
<path d="M137.00,29.760 L137.33,33.532 L137.66,37.078 L137.99,40.529 L138.32,43.915 L138.65,47.248 L138.98,50.536 L139.31,53.783 L139.64,56.995 L139.97,60.173 L140.30,63.320 L140.63,66.437 L140.96,69.527 L141.30,72.589 L141.63,75.626 L141.96,78.638 L142.29,81.626 L142.62,84.591 L142.95,87.533 L143.28,90.453 L143.61,93.352 L143.94,96.230 L144.27,99.087 L144.60,101.924 L144.93,104.742 L145.26,107.540 L146.09,114.452 L146.91,121.251 L147.74,127.940 L148.56,134.523 L149.39,141.003 L150.22,147.383 L151.04,153.666 L151.87,159.856 L152.69,165.953 L153.52,171.960 L154.35,177.881 L155.17,183.715 L156.00,189.466 L156.82,195.134 L157.65,200.723 L158.48,206.233 L159.30,211.665 L160.13,217.023 L160.95,222.306 L161.78,227.516 L162.61,232.654 L163.43,237.723 L164.26,242.722 L165.08,247.654 L165.91,252.519 L166.74,257.319 L167.56,262.054 L168.39,266.727 L169.21,271.336 L170.04,275.885 L170.87,280.373 L171.69,284.802 L172.52,289.173 L173.34,293.486 L174.17,297.743 L175.00,301.944 L175.82,306.090 L176.65,310.182 L177.47,314.221 L178.30,318.207 L179.13,322.142 L179.95,326.026 L180.78,329.860 L181.60,333.645 L182.43,337.381 L183.26,341.069 L184.08,344.710 L184.91,348.304 L185.73,351.853 L186.56,355.356 L187.39,358.815 L188.21,362.230 L189.04,365.601 L189.86,368.930 L190.69,372.217 L191.52,375.462 L192.34,378.666 L193.17,381.830 L193.99,384.954 L194.82,388.038 L195.65,391.084 L196.47,394.092 L197.30,397.062 L198.12,399.995 L198.95,402.891 L199.78,405.751 L200.60,408.576 L201.43,411.365 L202.25,414.119 L203.08,416.840 L203.91,419.526 L204.73,422.179 L205.56,424.799 L206.38,427.387 L207.21,429.943 L208.04,432.467 L208.86,434.960 L209.69,437.422 L210.51,439.854 L211.34,442.256 L212.17,444.628 L212.99,446.971 L213.82,449.286 L214.64,451.571 L215.47,453.829 L216.30,456.059 L217.12,458.262 L217.95,460.438 L218.77,462.587 L219.60,464.710 L220.43,466.807 L221.25,468.879 L222.08,470.925 L222.90,472.946 L223.73,474.942 L224.56,476.915 L225.38,478.863 L226.21,480.788 L227.03,482.689 L227.86,484.567 L228.69,486.422 L229.51,488.255 L230.34,490.065 L231.16,491.854 L231.99,493.621 L232.82,495.367 L233.64,497.091 L234.47,498.795 L235.29,500.478 L236.12,502.140 L236.95,503.783 L237.77,505.406 L238.60,507.009 L239.42,508.593 L240.25,510.158 L241.08,511.704 L241.90,513.232 L242.73,514.741 L243.55,516.232 L244.38,517.705 L245.21,519.160 L246.03,520.598 L246.86,522.019 L247.68,523.423 L248.51,524.809 L249.34,526.180 L250.16,527.533 L250.99,528.871 L251.81,530.193 L252.64,531.499 L253.47,532.789 L254.29,534.064 L255.12,535.323 L255.94,536.568 L256.77,537.798 L257.60,539.013 L258.42,540.213 L259.25,541.399 L260.07,542.572 L260.90,543.730 L261.73,544.874 L262.55,546.005 L263.38,547.122 L264.20,548.227 L265.03,549.318 L265.86,550.396 L266.68,551.461 L267.51,552.513 L268.33,553.554 L269.16,554.581 L269.99,555.597 L270.81,556.601 L271.64,557.592 L272.46,558.572 L273.29,559.541 L274.12,560.497 L274.94,561.443 L275.77,562.377 L276.59,563.301 L277.42,564.213 L278.25,565.115 L279.07,566.006 L279.90,566.887 L280.72,567.757 L281.55,568.617 L282.38,569.466 L283.20,570.306 L284.03,571.136 L284.85,571.956 L285.68,572.766 L286.51,573.567 L287.33,574.359 L288.16,575.141 L288.98,575.914 L289.81,576.678 L290.64,577.432 L291.46,578.178 L292.29,578.916 L293.11,579.644 L293.94,580.364 L294.77,581.076 L295.59,581.779 L296.42,582.474 L297.24,583.161 L298.07,583.840 L298.90,584.511 L299.72,585.174 L300.55,585.829 L301.37,586.476 L302.20,587.116 L305.50,589.602 L308.81,591.974 L312.11,594.237 L315.42,596.396 L318.72,598.457 L322.02,600.423 L325.33,602.299 L328.63,604.090 L331.94,605.799 L335.24,607.430 L338.54,608.986 L341.85,610.472 L345.15,611.891 L348.46,613.245 L351.76,614.537 L355.06,615.771 L358.37,616.949 L361.67,618.074 L364.98,619.148 L368.28,620.173 L371.58,621.152 L374.89,622.087 L378.19,622.979 L381.50,623.832 L384.80,624.646 L388.10,625.423 L391.41,626.165 L394.71,626.874 L398.02,627.551 L401.32,628.198 L404.62,628.816 L407.93,629.406 L411.23,629.969 L414.54,630.508 L417.84,631.022 L421.14,631.513 L424.45,631.982 L427.75,632.431 L431.06,632.859 L434.36,633.268 L437.66,633.659 L440.97,634.032 L444.27,634.389 L447.58,634.730 L450.88,635.056 L454.18,635.367 L457.49,635.664 L460.79,635.949 L464.10,636.220 L467.40,636.480" class="rd"/>
<path d="M467.40,636.480 L470.70,636.728 L474.01,636.965 L477.31,637.191 L480.62,637.408 L483.92,637.614 L487.22,637.812 L490.53,638.001 L493.83,638.182 L497.14,638.354 L500.44,638.519 L503.74,638.677 L507.05,638.827 L510.35,638.971 L513.66,639.109 L516.96,639.241 L520.26,639.366 L523.57,639.487 L526.87,639.602 L530.18,639.712 L533.48,639.817 L536.78,639.917 L540.09,640.013 L543.39,640.105 L546.70,640.193 L550.00,640.277 L553.30,640.357 L556.61,640.433 L559.91,640.507 L563.22,640.577 L566.52,640.644 L569.82,640.708 L573.13,640.769 L576.43,640.828 L579.74,640.884 L583.04,640.937 L586.34,640.989 L589.65,641.038 L592.95,641.084 L596.26,641.129 L599.56,641.172 L602.86,641.213 L606.17,641.252 L609.47,641.290 L612.78,641.326 L616.08,641.360 L619.38,641.393 L622.69,641.424 L625.99,641.454 L629.30,641.483 L632.60,641.510 L635.90,641.536 L639.21,641.561 L642.51,641.585 L645.82,641.608 L649.12,641.630 L652.42,641.651 L655.73,641.671 L659.03,641.690 L662.34,641.709 L665.64,641.726 L668.94,641.743 L672.25,641.759 L675.55,641.775 L678.86,641.789 L682.16,641.803 L685.46,641.817 L688.77,641.830 L692.07,641.842 L695.38,641.854 L698.68,641.865 L701.98,641.876 L705.29,641.886 L708.59,641.896 L711.90,641.906 L715.20,641.915 L718.50,641.923 L721.81,641.931 L725.11,641.939 L728.42,641.947 L731.72,641.954 L735.02,641.961 L738.33,641.968 L741.63,641.974 L744.94,641.980 L748.24,641.986 L751.54,641.992 L754.85,641.997 L758.15,642.002 L761.46,642.007 L764.76,642.012 L768.06,642.016 L771.37,642.020 L774.67,642.024 L777.98,642.028 L781.28,642.032 L784.58,642.036 L787.89,642.039 L791.19,642.042 L794.50,642.045 L797.80,642.048 L801.10,642.051 L804.41,642.054 L807.71,642.057 L811.02,642.059 L814.32,642.062 L817.62,642.064 L820.93,642.066 L824.23,642.068 L827.54,642.070 L830.84,642.072 L834.14,642.074 L837.45,642.076 L840.75,642.077 L844.06,642.079 L847.36,642.081 L850.66,642.082 L853.97,642.084 L857.27,642.085 L860.58,642.086 L863.88,642.087 L867.18,642.089 L870.49,642.090 L873.79,642.091 L877.10,642.092 L880.40,642.093 L883.70,642.094 L887.01,642.095 L890.31,642.096 L893.62,642.096 L896.92,642.097 L900.22,642.098 L903.53,642.099 L906.83,642.100 L910.14,642.100 L913.44,642.101 L916.74,642.101 L920.05,642.102 L923.35,642.103 L926.66,642.103 L929.96,642.104 L933.26,642.104 L936.57,642.105 L939.87,642.105 L943.18,642.106 L946.48,642.106 L949.78,642.106 L953.09,642.107 L956.39,642.107 L959.70,642.107 L963.00,642.108 L963.00,642.108" class="rd" stroke-dashoffset="765.870"/>
<path d="M137.00,29.760 L137.33,33.122 L137.66,36.230 L137.99,39.240 L138.32,42.182 L138.65,45.071 L138.98,47.917 L139.31,50.725 L139.64,53.498 L139.97,56.241 L140.30,58.956 L140.63,61.643 L140.96,64.306 L141.30,66.945 L141.63,69.562 L141.96,72.157 L142.29,74.731 L142.62,77.285 L142.95,79.820 L143.28,82.337 L143.61,84.835 L143.94,87.316 L144.27,89.780 L144.60,92.227 L144.93,94.657 L145.26,97.072 L146.09,103.041 L146.91,108.916 L147.74,114.703 L148.56,120.404 L149.39,126.023 L150.22,131.562 L151.04,137.024 L151.87,142.411 L152.69,147.725 L153.52,152.968 L154.35,158.143 L155.17,163.250 L156.00,168.291 L156.82,173.268 L157.65,178.182 L158.48,183.035 L159.30,187.827 L160.13,192.561 L160.95,197.236 L161.78,201.854 L162.61,206.417 L163.43,210.924 L164.26,215.378 L165.08,219.779 L165.91,224.128 L166.74,228.426 L167.56,232.674 L168.39,236.872 L169.21,241.021 L170.04,245.122 L170.87,249.177 L171.69,253.184 L172.52,257.146 L173.34,261.063 L174.17,264.936 L175.00,268.765 L175.82,272.550 L176.65,276.293 L177.47,279.995 L178.30,283.654 L179.13,287.274 L179.95,290.853 L180.78,294.392 L181.60,297.892 L182.43,301.354 L183.26,304.778 L184.08,308.164 L184.91,311.513 L185.73,314.826 L186.56,318.102 L187.39,321.343 L188.21,324.549 L189.04,327.720 L189.86,330.857 L190.69,333.960 L191.52,337.030 L192.34,340.066 L193.17,343.070 L193.99,346.042 L194.82,348.983 L195.65,351.892 L196.47,354.770 L197.30,357.617 L198.12,360.434 L198.95,363.222 L199.78,365.979 L200.60,368.708 L201.43,371.408 L202.25,374.080 L203.08,376.723 L203.91,379.339 L204.73,381.927 L205.56,384.488 L206.38,387.022 L207.21,389.530 L208.04,392.012 L208.86,394.467 L209.69,396.898 L210.51,399.303 L211.34,401.683 L212.17,404.038 L212.99,406.369 L213.82,408.676 L214.64,410.959 L215.47,413.218 L216.30,415.454 L217.12,417.667 L217.95,419.858 L218.77,422.025 L219.60,424.171 L220.43,426.294 L221.25,428.396 L222.08,430.476 L222.90,432.535 L223.73,434.573 L224.56,436.590 L225.38,438.587 L226.21,440.563 L227.03,442.519 L227.86,444.455 L228.69,446.371 L229.51,448.268 L230.34,450.146 L231.16,452.004 L231.99,453.844 L232.82,455.666 L233.64,457.468 L234.47,459.253 L235.29,461.019 L236.12,462.768 L236.95,464.499 L237.77,466.213 L238.60,467.909 L239.42,469.589 L240.25,471.251 L241.08,472.897 L241.90,474.526 L242.73,476.139 L243.55,477.736 L244.38,479.316 L245.21,480.881 L246.03,482.430 L246.86,483.964 L247.68,485.483 L248.51,486.986 L249.34,488.474 L250.16,489.948 L250.99,491.406 L251.81,492.851 L252.64,494.280 L253.47,495.696 L254.29,497.098 L255.12,498.485 L255.94,499.859 L256.77,501.219 L257.60,502.566 L258.42,503.899 L259.25,505.220 L260.07,506.527 L260.90,507.821 L261.73,509.102 L262.55,510.371 L263.38,511.627 L264.20,512.871 L265.03,514.103 L265.86,515.322 L266.68,516.529 L267.51,517.725 L268.33,518.909 L269.16,520.081 L269.99,521.241 L270.81,522.390 L271.64,523.528 L272.46,524.655 L273.29,525.771 L274.12,526.875 L274.94,527.969 L275.77,529.052 L276.59,530.125 L277.42,531.187 L278.25,532.238 L279.07,533.280 L279.90,534.311 L280.72,535.332 L281.55,536.343 L282.38,537.344 L283.20,538.336 L284.03,539.318 L284.85,540.290 L285.68,541.253 L286.51,542.206 L287.33,543.150 L288.16,544.085 L288.98,545.011 L289.81,545.928 L290.64,546.836 L291.46,547.735 L292.29,548.625 L293.11,549.507 L293.94,550.380 L294.77,551.245 L295.59,552.101 L296.42,552.949 L297.24,553.789 L298.07,554.621 L298.90,555.444 L299.72,556.260 L300.55,557.068 L301.37,557.868 L302.20,558.660 L305.50,561.753 L308.81,564.729 L312.11,567.591 L315.42,570.345 L318.72,572.995 L322.02,575.544 L325.33,577.998 L328.63,580.358 L331.94,582.630 L335.24,584.817 L338.54,586.921 L341.85,588.946 L345.15,590.895 L348.46,592.772 L351.76,594.578 L355.06,596.316 L358.37,597.990 L361.67,599.602 L364.98,601.153 L368.28,602.647 L371.58,604.085 L374.89,605.470 L378.19,606.803 L381.50,608.087 L384.80,609.323 L388.10,610.514 L391.41,611.661 L394.71,612.765 L398.02,613.829 L401.32,614.853 L404.62,615.840 L407.93,616.790 L411.23,617.706 L414.54,618.587 L417.84,619.437 L421.14,620.255 L424.45,621.043 L427.75,621.803 L431.06,622.534 L434.36,623.239 L437.66,623.918 L440.97,624.573 L444.27,625.203 L447.58,625.810 L450.88,626.396 L454.18,626.960 L457.49,627.503 L460.79,628.027 L464.10,628.532 L467.40,629.018 L470.70,629.487 L474.01,629.938 L477.31,630.374 L480.62,630.793 L483.92,631.197 L487.22,631.587 L490.53,631.963 L493.83,632.325 L497.14,632.674 L500.44,633.010 L503.74,633.334 L507.05,633.647 L510.35,633.948 L513.66,634.239 L516.96,634.519 L520.26,634.789 L523.57,635.049 L526.87,635.300 L530.18,635.542 L533.48,635.775 L536.78,636.000 L540.09,636.216 L543.39,636.425 L546.70,636.627 L550.00,636.821 L553.30,637.008 L556.61,637.189 L559.91,637.363 L563.22,637.531 L566.52,637.693 L569.82,637.849 L573.13,638.000 L576.43,638.145 L579.74,638.285 L583.04,638.420 L586.34,638.550 L589.65,638.676 L592.95,638.797 L596.26,638.914 L599.56,639.026 L602.86,639.135 L606.17,639.240 L609.47,639.341 L612.78,639.438 L616.08,639.532 L619.38,639.623 L622.69,639.711 L625.99,639.795 L629.30,639.876 L632.60,639.955 L635.90,640.031 L639.21,640.104 L642.51,640.174 L645.82,640.242 L649.12,640.308 L652.42,640.371 L655.73,640.432 L659.03,640.491 L662.34,640.548 L665.64,640.602 L668.94,640.655 L672.25,640.706 L675.55,640.756 L678.86,640.803 L682.16,640.849 L685.46,640.893 L688.77,640.936 L692.07,640.977 L695.38,641.016 L698.68,641.055 L701.98,641.092 L705.29,641.127 L708.59,641.162 L711.90,641.195 L715.20,641.227 L718.50,641.258 L721.81,641.288 L725.11,641.316 L728.42,641.344 L731.72,641.371 L735.02,641.397 L738.33,641.422 L741.63,641.446 L744.94,641.469 L748.24,641.491 L751.54,641.513 L754.85,641.534 L758.15,641.554 L761.46,641.574 L764.76,641.592 L768.06,641.610 L771.37,641.628 L774.67,641.645 L777.98,641.661 L781.28,641.677 L784.58,641.692 L787.89,641.707 L791.19,641.721 L794.50,641.734 L797.80,641.748 L801.10,641.760 L804.41,641.773 L807.71,641.784 L811.02,641.796 L814.32,641.807 L817.62,641.817 L820.93,641.828 L824.23,641.838 L827.54,641.847 L830.84,641.857 L834.14,641.865 L837.45,641.874 L840.75,641.882 L844.06,641.890 L847.36,641.898 L850.66,641.906 L853.97,641.913 L857.27,641.920 L860.58,641.927 L863.88,641.933 L867.18,641.939 L870.49,641.945 L873.79,641.951 L877.10,641.957 L880.40,641.962 L883.70,641.968 L887.01,641.973 L890.31,641.977 L893.62,641.982 L896.92,641.987 L900.22,641.991 L903.53,641.995 L906.83,642.000 L910.14,642.004 L913.44,642.007 L916.74,642.011 L920.05,642.015 L923.35,642.018 L926.66,642.021 L929.96,642.025 L933.26,642.028 L936.57,642.031 L939.87,642.034 L943.18,642.036 L946.48,642.039 L949.78,642.042 L953.09,642.044 L956.39,642.047 L959.70,642.049 L963.00,642.051 L963.00,642.051" class="rd"/>
<path d="M137.00,29.760 L137.33,32.040 L137.66,34.309 L137.99,36.568 L138.32,38.817 L138.65,41.056 L138.98,43.285 L139.31,45.504 L139.64,47.712 L139.97,49.911 L140.30,52.100 L140.63,54.279 L140.96,56.448 L141.30,58.607 L141.63,60.757 L141.96,62.898 L142.29,65.028 L142.62,67.150 L142.95,69.261 L143.28,71.364 L143.61,73.457 L143.94,75.541 L144.27,77.616 L144.60,79.681 L144.93,81.738 L145.26,83.785 L146.09,88.865 L146.91,93.889 L147.74,98.858 L148.56,103.774 L149.39,108.636 L150.22,113.447 L151.04,118.205 L151.87,122.913 L152.69,127.571 L153.52,132.179 L154.35,136.738 L155.17,141.250 L156.00,145.713 L156.82,150.130 L157.65,154.501 L158.48,158.826 L159.30,163.106 L160.13,167.342 L160.95,171.533 L161.78,175.682 L162.61,179.787 L163.43,183.851 L164.26,187.873 L165.08,191.854 L165.91,195.794 L166.74,199.694 L167.56,203.555 L168.39,207.376 L169.21,211.159 L170.04,214.904 L170.87,218.612 L171.69,222.282 L172.52,225.915 L173.34,229.513 L174.17,233.074 L175.00,236.600 L175.82,240.091 L176.65,243.548 L177.47,246.970 L178.30,250.359 L179.13,253.715 L179.95,257.037 L180.78,260.327 L181.60,263.585 L182.43,266.811 L183.26,270.006 L184.08,273.170 L184.91,276.303 L185.73,279.406 L186.56,282.479 L187.39,285.523 L188.21,288.537 L189.04,291.522 L189.86,294.479 L190.69,297.407 L191.52,300.308 L192.34,303.181 L193.17,306.026 L193.99,308.845 L194.82,311.637 L195.65,314.402 L196.47,317.141 L197.30,319.855 L198.12,322.543 L198.95,325.206 L199.78,327.844 L200.60,330.457 L201.43,333.045 L202.25,335.610 L203.08,338.151 L203.91,340.668 L204.73,343.161 L205.56,345.632 L206.38,348.080 L207.21,350.505 L208.04,352.908 L208.86,355.288 L209.69,357.647 L210.51,359.984 L211.34,362.300 L212.17,364.594 L212.99,366.867 L213.82,369.120 L214.64,371.352 L215.47,373.564 L216.30,375.756 L217.12,377.928 L217.95,380.080 L218.77,382.212 L219.60,384.326 L220.43,386.420 L221.25,388.496 L222.08,390.552 L222.90,392.591 L223.73,394.611 L224.56,396.613 L225.38,398.596 L226.21,400.563 L227.03,402.511 L227.86,404.443 L228.69,406.357 L229.51,408.254 L230.34,410.134 L231.16,411.997 L231.99,413.844 L232.82,415.675 L233.64,417.489 L234.47,419.288 L235.29,421.070 L236.12,422.837 L236.95,424.589 L237.77,426.325 L238.60,428.045 L239.42,429.751 L240.25,431.442 L241.08,433.117 L241.90,434.779 L242.73,436.426 L243.55,438.058 L244.38,439.676 L245.21,441.280 L246.03,442.870 L246.86,444.447 L247.68,446.010 L248.51,447.559 L249.34,449.095 L250.16,450.617 L250.99,452.127 L251.81,453.623 L252.64,455.107 L253.47,456.577 L254.29,458.036 L255.12,459.481 L255.94,460.914 L256.77,462.335 L257.60,463.744 L258.42,465.141 L259.25,466.526 L260.07,467.899 L260.90,469.260 L261.73,470.610 L262.55,471.948 L263.38,473.275 L264.20,474.591 L265.03,475.895 L265.86,477.189 L266.68,478.471 L267.51,479.743 L268.33,481.004 L269.16,482.254 L269.99,483.494 L270.81,484.723 L271.64,485.942 L272.46,487.151 L273.29,488.349 L274.12,489.538 L274.94,490.716 L275.77,491.885 L276.59,493.044 L277.42,494.193 L278.25,495.333 L279.07,496.463 L279.90,497.584 L280.72,498.695 L281.55,499.797 L282.38,500.890 L283.20,501.974 L284.03,503.049 L284.85,504.115 L285.68,505.172 L286.51,506.220 L287.33,507.260 L288.16,508.291 L288.98,509.314 L289.81,510.328 L290.64,511.334 L291.46,512.331 L292.29,513.321 L293.11,514.302 L293.94,515.275 L294.77,516.240 L295.59,517.198 L296.42,518.147 L297.24,519.089 L298.07,520.023 L298.90,520.949 L299.72,521.868 L300.55,522.779 L301.37,523.683 L302.20,524.579 L305.50,528.093 L308.81,531.493 L312.11,534.785 L315.42,537.973 L318.72,541.058 L322.02,544.046 L325.33,546.940 L328.63,549.743 L331.94,552.457 L335.24,555.086 L338.54,557.633 L341.85,560.101 L345.15,562.492 L348.46,564.809 L351.76,567.054 L355.06,569.230 L358.37,571.339 L361.67,573.383 L364.98,575.365 L368.28,577.286 L371.58,579.148 L374.89,580.954 L378.19,582.705 L381.50,584.402 L384.80,586.049 L388.10,587.646 L391.41,589.195 L394.71,590.697 L398.02,592.155 L401.32,593.568 L404.62,594.940 L407.93,596.271 L411.23,597.562 L414.54,598.815 L417.84,600.031 L421.14,601.210 L424.45,602.355 L427.75,603.467 L431.06,604.546 L434.36,605.593 L437.66,606.609 L440.97,607.596 L444.27,608.554 L447.58,609.484 L450.88,610.387 L454.18,611.264 L457.49,612.115 L460.79,612.942 L464.10,613.745 L467.40,614.525 L470.70,615.282 L474.01,616.018 L477.31,616.732 L480.62,617.426 L483.92,618.100 L487.22,618.755 L490.53,619.392 L493.83,620.010 L497.14,620.611 L500.44,621.194 L503.74,621.761 L507.05,622.312 L510.35,622.848 L513.66,623.368 L516.96,623.874 L520.26,624.365 L523.57,624.843 L526.87,625.307 L530.18,625.759 L533.48,626.197 L536.78,626.624 L540.09,627.038 L543.39,627.441 L546.70,627.833 L550.00,628.214 L553.30,628.584 L556.61,628.944 L559.91,629.295 L563.22,629.635 L566.52,629.966 L569.82,630.288 L573.13,630.601 L576.43,630.906 L579.74,631.202 L583.04,631.490 L586.34,631.770 L589.65,632.042 L592.95,632.307 L596.26,632.565 L599.56,632.816 L602.86,633.060 L606.17,633.297 L609.47,633.528 L612.78,633.752 L616.08,633.971 L619.38,634.184 L622.69,634.390 L625.99,634.592 L629.30,634.787 L632.60,634.978 L635.90,635.163 L639.21,635.344 L642.51,635.520 L645.82,635.690 L649.12,635.857 L652.42,636.019 L655.73,636.176 L659.03,636.329 L662.34,636.479 L665.64,636.624 L668.94,636.765 L672.25,636.903 L675.55,637.037 L678.86,637.167 L682.16,637.294 L685.46,637.418 L688.77,637.538 L692.07,637.655 L695.38,637.769 L698.68,637.880 L701.98,637.988 L705.29,638.094 L708.59,638.196 L711.90,638.296 L715.20,638.393 L718.50,638.488 L721.81,638.580 L725.11,638.670 L728.42,638.757 L731.72,638.842 L735.02,638.925 L738.33,639.006 L741.63,639.084 L744.94,639.161 L748.24,639.236 L751.54,639.308 L754.85,639.379 L758.15,639.448 L761.46,639.515 L764.76,639.580 L768.06,639.644 L771.37,639.706 L774.67,639.767 L777.98,639.825 L781.28,639.883 L784.58,639.939 L787.89,639.993 L791.19,640.046 L794.50,640.098 L797.80,640.148 L801.10,640.197 L804.41,640.245 L807.71,640.292 L811.02,640.337 L814.32,640.381 L817.62,640.424 L820.93,640.466 L824.23,640.507 L827.54,640.547 L830.84,640.586 L834.14,640.624 L837.45,640.661 L840.75,640.697 L844.06,640.732 L847.36,640.766 L850.66,640.799 L853.97,640.832 L857.27,640.864 L860.58,640.894 L863.88,640.924 L867.18,640.954 L870.49,640.982 L873.79,641.010 L877.10,641.037 L880.40,641.064 L883.70,641.089 L887.01,641.115 L890.31,641.139 L893.62,641.163 L896.92,641.186 L900.22,641.209 L903.53,641.231 L906.83,641.253 L910.14,641.274 L913.44,641.294 L916.74,641.314 L920.05,641.334 L923.35,641.353 L926.66,641.371 L929.96,641.390 L933.26,641.407 L936.57,641.424 L939.87,641.441 L943.18,641.457 L946.48,641.473 L949.78,641.489 L953.09,641.504 L956.39,641.519 L959.70,641.533 L963.00,641.547 L963.00,641.547" class="rd"/>
</g>
<polygon points="308.62,333.26 194.65,594.00 190.30,585.50 188.50,614.60 208.00,594.30 199.32,596.30 313.38,335.34" fill="#000"/>
<text transform="matrix(0.38684 0 0 0.36364 100.126 29.900)" font-size="100">1</text>
<text transform="matrix(0.35083 0 0 0.37015 65.948 156.960)" font-size="100">0.8</text>
<text transform="matrix(0.34426 0 0 0.38358 65.867 285.133)" font-size="100">0.6</text>
<text transform="matrix(0.35630 0 0 0.36567 65.931 412.069)" font-size="100">0.4</text>
<text transform="matrix(0.34083 0 0 0.36567 65.978 539.069)" font-size="100">0.2</text>
<text transform="matrix(0.35333 0 0 0.36418 100.440 666.672)" font-size="100">0</text>
<text transform="matrix(0.35333 0 0 0.36866 125.840 707.963)" font-size="100">0</text>
<text transform="matrix(0.38421 0 0 0.36061 291.132 707.800)" font-size="100">1</text>
<text transform="matrix(0.34898 0 0 0.36061 456.349 707.439)" font-size="100">2</text>
<text transform="matrix(0.32500 0 0 0.37015 621.725 708.060)" font-size="100">3</text>
<text transform="matrix(0.35417 0 0 0.38000 786.754 708.700)" font-size="100">4</text>
<text transform="matrix(0.34565 0 0 0.37576 951.654 708.424)" font-size="100">5</text>
<text transform="matrix(0.42043 0 0 0.42857 632.459 100.500)" font-size="100">Sutterby fluid</text>
<text transform="matrix(0.41920 0 0 0.41429 633.719 153.900)" font-size="100">Newtonian fluid</text>
<text transform="matrix(0.41971 0 0 0.44815 514.420 336.078)" font-size="100">Nc=0.1,0.2,0.3,0.4</text>

<rect x="536.6" y="52.7" width="405.5" height="114.2" fill="none" stroke="#000" stroke-width="5.3"/>
<line x1="544" y1="82.7" x2="621" y2="82.7" stroke="#000" stroke-width="5.6"/>
<line x1="544" y1="137.2" x2="621" y2="137.2" stroke="#f00" stroke-width="5.6" stroke-dasharray="15.5 15"/>
<rect x="489.8" y="279.8" width="375.5" height="89.7" fill="none" stroke="#000" stroke-width="5.2"/>
<path d="M10.87,346.78 L10.83,346.85 L10.78,346.95 L10.68,347.09 L10.56,347.27 L10.41,347.46 L10.26,347.68 L10.11,347.92 L9.95,348.17 L9.81,348.44 L9.68,348.74 L9.57,349.09 L9.51,349.45 L9.46,349.77 L9.44,350.07 L9.46,350.36 L9.49,350.65 L9.56,350.93 L9.64,351.20 L9.73,351.46 L9.85,351.71 L9.97,351.95 L10.10,352.19 L10.25,352.43 L10.40,352.66 L10.57,352.89 L10.75,353.13 L10.95,353.36 L11.16,353.59 L11.38,353.83 L11.61,354.06 L11.86,354.29 L12.12,354.51 L12.39,354.74 L12.67,354.97 L12.97,355.20 L13.28,355.42 L13.61,355.65 L13.95,355.88 L14.31,356.11 L14.68,356.34 L15.06,356.57 L15.46,356.81 L15.87,357.04 L16.29,357.27 L16.72,357.49 L17.15,357.71 L17.60,357.93 L18.05,358.14 L18.51,358.33 L18.98,358.51 L19.46,358.68 L19.94,358.84 L20.41,359.00 L20.89,359.15 L21.37,359.30 L21.85,359.45 L22.34,359.60 L22.82,359.75 L23.30,359.90 L23.80,360.05 L24.32,360.20 L24.86,360.34 L25.41,360.48 L25.96,360.63 L26.51,360.77 L27.06,360.91 L27.61,361.05 L28.15,361.19 L28.69,361.34 L29.22,361.49 L29.74,361.63 L30.26,361.79 L30.80,361.93 L31.35,362.08 L31.90,362.24 L32.45,362.39 L32.99,362.54 L33.53,362.70 L34.05,362.86 L34.56,363.02 L35.05,363.18 L35.52,363.33 L35.96,363.49 L36.37,363.65 L36.78,363.81 L37.17,363.97 L37.55,364.13 L37.92,364.30 L38.28,364.47 L38.63,364.64 L38.96,364.82 L39.28,364.99 L39.58,365.17 L39.87,365.34 L40.14,365.51 L40.40,365.67 L40.63,365.83 L40.84,365.99 L41.05,366.16 L41.24,366.32 L41.42,366.48 L41.58,366.64 L41.73,366.79 L41.86,366.94 L41.97,367.07 L42.07,367.18 L42.14,367.28 L42.18,367.31 L42.18,367.25 L42.18,367.16 L42.19,367.11 L42.20,367.11 L42.19,367.15 L42.17,367.22 L42.14,367.31 L42.09,367.42 L42.02,367.55 L41.95,367.70 L41.86,367.89 L41.80,368.06 L44.60,369.14 L44.61,369.14 L44.62,369.13 L44.68,369.05 L44.77,368.91 L44.87,368.73 L44.99,368.51 L45.11,368.24 L45.22,367.94 L45.30,367.58 L45.34,367.17 L45.32,366.72 L45.22,366.29 L45.11,365.94 L44.99,365.64 L44.85,365.35 L44.69,365.05 L44.51,364.75 L44.32,364.46 L44.11,364.17 L43.88,363.87 L43.63,363.58 L43.37,363.29 L43.09,363.01 L42.80,362.73 L42.51,362.46 L42.20,362.19 L41.87,361.92 L41.53,361.64 L41.17,361.37 L40.80,361.11 L40.41,360.84 L40.00,360.57 L39.58,360.31 L39.14,360.05 L38.69,359.80 L38.23,359.55 L37.73,359.31 L37.22,359.08 L36.69,358.85 L36.15,358.63 L35.60,358.41 L35.05,358.20 L34.49,357.99 L33.93,357.79 L33.37,357.59 L32.82,357.39 L32.28,357.20 L31.74,357.01 L31.18,356.84 L30.61,356.67 L30.05,356.50 L29.48,356.34 L28.91,356.18 L28.35,356.03 L27.80,355.88 L27.26,355.73 L26.72,355.58 L26.20,355.44 L25.70,355.29 L25.20,355.15 L24.69,355.02 L24.19,354.89 L23.69,354.76 L23.21,354.64 L22.73,354.52 L22.27,354.40 L21.82,354.28 L21.38,354.16 L20.96,354.04 L20.55,353.92 L20.15,353.79 L19.75,353.66 L19.36,353.54 L18.95,353.41 L18.55,353.27 L18.15,353.13 L17.76,352.99 L17.38,352.84 L17.00,352.70 L16.63,352.55 L16.28,352.40 L15.94,352.26 L15.62,352.11 L15.32,351.98 L15.03,351.85 L14.76,351.72 L14.51,351.59 L14.27,351.46 L14.04,351.34 L13.83,351.22 L13.63,351.10 L13.44,350.98 L13.26,350.87 L13.10,350.76 L12.94,350.65 L12.80,350.54 L12.66,350.43 L12.54,350.33 L12.42,350.23 L12.32,350.14 L12.24,350.06 L12.16,349.99 L12.10,349.93 L12.05,349.88 L12.00,349.83 L11.96,349.80 L11.93,349.76 L11.89,349.75 L11.90,349.77 L11.93,349.74 L11.99,349.66 L12.08,349.55 L12.19,349.41 L12.32,349.27 L12.46,349.12 L12.61,348.97 L12.75,348.83 L12.89,348.68 L13.03,348.54 L13.13,348.42Z M10.60,347.60 a1.40,1.40 0 1,0 2.80,0 a1.40,1.40 0 1,0 -2.80,0Z M41.70,368.60 a1.50,1.50 0 1,0 3.00,0 a1.50,1.50 0 1,0 -3.00,0Z" fill="#000"/><path d=" M12.9,346.7 m-2,0 a2,2 0 1,0 4,0 a2,2 0 1,0 -4,0Z M42.4,369.3 m-2.2,0 a2.2,2.2 0 1,0 4.4,0 a2.2,2.2 0 1,0 -4.4,0Z" fill="#000"/><path d=" M20.0,351.0 L21.5,351.2 L22.4,356 L22.1,361.2 L20.7,361.7 L19.3,356Z" fill="#000"/>
<path d="M3.10,329.95 L20.30,340.84 A1.80,1.80 0 0,1 18.50,343.96 L0.50,334.45 A2.60,2.60 0 0,1 3.10,329.95Z" fill="#000"/>
<path d="M559.14,756.35 L558.97,756.44 L558.77,756.54 L558.54,756.67 L558.28,756.82 L557.99,756.99 L557.69,757.17 L557.36,757.37 L557.02,757.58 L556.67,757.81 L556.32,758.05 L555.96,758.29 L555.61,758.55 L555.25,758.79 L554.88,759.05 L554.50,759.32 L554.09,759.60 L553.68,759.90 L553.26,760.21 L552.83,760.54 L552.40,760.88 L551.97,761.23 L551.54,761.60 L551.11,761.99 L550.69,762.39 L550.28,762.80 L549.86,763.23 L549.45,763.67 L549.03,764.12 L548.62,764.59 L548.21,765.07 L547.81,765.55 L547.42,766.03 L547.03,766.52 L546.66,767.01 L546.29,767.49 L545.95,767.97 L545.62,768.45 L545.30,768.93 L544.99,769.41 L544.69,769.90 L544.40,770.38 L544.12,770.87 L543.85,771.36 L543.59,771.85 L543.34,772.33 L543.10,772.82 L542.87,773.31 L542.65,773.79 L542.46,774.28 L542.28,774.78 L542.11,775.28 L541.95,775.78 L541.80,776.27 L541.67,776.77 L541.54,777.26 L541.43,777.75 L541.33,778.24 L541.24,778.72 L541.17,779.20 L541.11,779.67 L541.08,780.13 L541.06,780.58 L541.06,781.03 L541.07,781.48 L541.09,781.93 L541.13,782.38 L541.18,782.82 L541.25,783.27 L541.34,783.71 L541.46,784.14 L541.59,784.58 L541.74,785.00 L541.92,785.41 L542.11,785.81 L542.32,786.20 L542.54,786.58 L542.79,786.95 L543.05,787.31 L543.34,787.66 L543.64,788.00 L543.96,788.32 L544.29,788.63 L544.65,788.92 L545.04,789.21 L545.49,789.48 L545.95,789.71 L546.40,789.91 L546.85,790.06 L547.28,790.20 L547.70,790.32 L548.10,790.42 L548.48,790.51 L548.84,790.60 L549.18,790.69 L549.49,790.78 L549.80,790.88 L550.16,791.00 L550.55,791.12 L550.93,791.24 L551.30,791.35 L551.66,791.46 L552.01,791.57 L552.33,791.67 L552.63,791.78 L552.90,791.88 L553.13,791.98 L553.33,792.08 L553.51,792.17 L553.68,792.29 L553.87,792.43 L554.04,792.57 L554.21,792.71 L554.36,792.86 L554.49,793.00 L554.61,793.13 L554.71,793.27 L554.79,793.39 L554.86,793.49 L554.90,793.58 L554.93,793.65 L554.95,793.70 L554.97,793.78 L554.98,793.88 L554.99,794.00 L554.98,794.14 L554.96,794.30 L554.94,794.48 L554.90,794.66 L554.84,794.84 L554.78,795.02 L554.72,795.20 L554.65,795.36 L554.59,795.48 L554.52,795.61 L554.42,795.76 L554.30,795.92 L554.16,796.09 L554.00,796.26 L553.82,796.45 L553.64,796.63 L553.44,796.82 L553.24,797.01 L553.04,797.20 L552.85,797.38 L552.68,797.54 L552.50,797.70 L552.30,797.86 L552.08,798.03 L551.87,798.19 L551.65,798.35 L551.43,798.51 L551.22,798.66 L551.03,798.80 L550.85,798.93 L550.68,799.05 L550.56,799.15 L552.44,801.85 L552.56,801.78 L552.70,801.70 L552.88,801.59 L553.09,801.46 L553.32,801.32 L553.57,801.16 L553.83,800.99 L554.09,800.81 L554.36,800.62 L554.64,800.42 L554.91,800.22 L555.15,800.02 L555.37,799.83 L555.59,799.65 L555.82,799.46 L556.06,799.25 L556.30,799.03 L556.55,798.80 L556.80,798.55 L557.05,798.29 L557.29,798.01 L557.53,797.71 L557.75,797.38 L557.95,797.04 L558.11,796.72 L558.25,796.40 L558.39,796.07 L558.50,795.73 L558.61,795.38 L558.70,795.01 L558.77,794.63 L558.81,794.24 L558.83,793.83 L558.82,793.41 L558.77,792.98 L558.67,792.55 L558.53,792.14 L558.37,791.76 L558.18,791.40 L557.96,791.05 L557.73,790.73 L557.48,790.42 L557.22,790.12 L556.94,789.84 L556.65,789.57 L556.35,789.31 L556.03,789.07 L555.69,788.83 L555.32,788.59 L554.92,788.37 L554.53,788.17 L554.13,788.00 L553.73,787.84 L553.34,787.69 L552.96,787.56 L552.58,787.42 L552.22,787.30 L551.87,787.17 L551.54,787.05 L551.20,786.92 L550.81,786.77 L550.39,786.64 L549.99,786.51 L549.60,786.40 L549.23,786.29 L548.89,786.18 L548.58,786.08 L548.29,785.98 L548.05,785.88 L547.85,785.78 L547.69,785.69 L547.56,785.59 L547.41,785.47 L547.25,785.33 L547.10,785.17 L546.95,785.00 L546.81,784.82 L546.67,784.64 L546.54,784.44 L546.43,784.24 L546.32,784.03 L546.22,783.82 L546.13,783.61 L546.06,783.40 L545.99,783.19 L545.94,782.97 L545.89,782.74 L545.86,782.50 L545.83,782.25 L545.81,781.98 L545.80,781.70 L545.80,781.41 L545.81,781.11 L545.83,780.79 L545.85,780.46 L545.89,780.13 L545.92,779.79 L545.96,779.43 L546.01,779.06 L546.07,778.68 L546.15,778.29 L546.23,777.89 L546.33,777.49 L546.43,777.08 L546.55,776.66 L546.68,776.24 L546.81,775.83 L546.95,775.41 L547.09,774.98 L547.23,774.55 L547.39,774.11 L547.56,773.67 L547.73,773.22 L547.92,772.77 L548.12,772.31 L548.33,771.86 L548.54,771.40 L548.77,770.95 L549.01,770.49 L549.25,770.03 L549.51,769.57 L549.78,769.09 L550.06,768.60 L550.35,768.11 L550.66,767.62 L550.98,767.13 L551.30,766.65 L551.62,766.17 L551.95,765.71 L552.27,765.26 L552.59,764.82 L552.91,764.41 L553.23,764.02 L553.55,763.64 L553.89,763.27 L554.24,762.90 L554.59,762.54 L554.95,762.19 L555.31,761.84 L555.66,761.51 L556.01,761.18 L556.35,760.86 L556.68,760.55 L556.99,760.25 L557.29,759.98 L557.60,759.71 L557.90,759.45 L558.20,759.20 L558.49,758.96 L558.78,758.73 L559.05,758.51 L559.30,758.30 L559.53,758.11 L559.74,757.94 L559.92,757.79 L560.06,757.65Z M558.80,757.00 a0.80,0.80 0 1,0 1.60,0 a0.80,0.80 0 1,0 -1.60,0Z M549.85,800.50 a1.65,1.65 0 1,0 3.30,0 a1.65,1.65 0 1,0 -3.30,0Z" fill="#000"/><path d=" M559.0,752.2 L561.9,752.0 L561.3,756.6 L559.3,757.4Z M559.4,755.6 Q564,755.1 567.4,755.9 Q569.0,756.9 567.2,757.9 Q563.5,758.4 559.4,758.1Z" fill="#000"/><path d=" M545.8,796.2 Q548.0,795.4 550.8,797.3 L550.3,799.6 Q547.5,799.0 546.0,798.1 Q544.9,797.2 545.8,796.2Z" fill="#000"/>
</svg>
</body></html>
